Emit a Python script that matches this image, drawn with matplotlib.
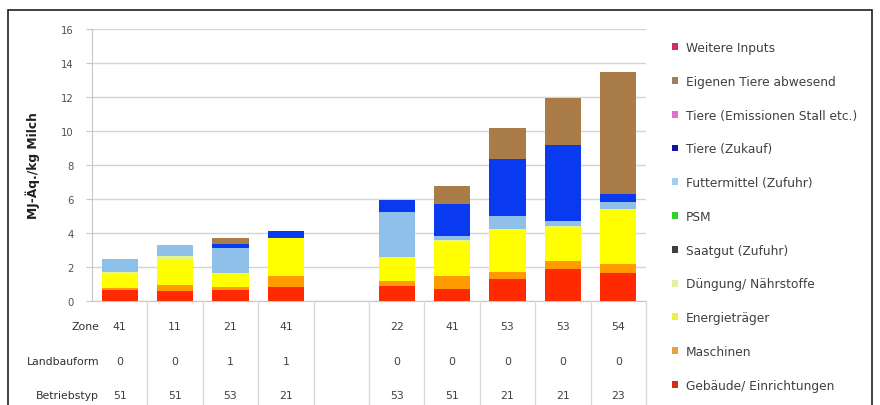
import matplotlib
matplotlib.use("Agg")
import matplotlib.pyplot as plt
from matplotlib.patches import Rectangle, Patch
from matplotlib.lines import Line2D
import numpy as np

plt.rcParams['font.family'] = ['DejaVu Sans']

# ---- data ----
zone = ["41", "11", "21", "41", "", "22", "41", "53", "53", "54"]
landbauform = ["0", "0", "1", "1", "", "0", "0", "0", "0", "0"]
betriebstyp = ["51", "51", "53", "21", "", "53", "51", "21", "21", "23"]

series_names = [
    "Gebäude/ Einrichtungen",
    "Maschinen",
    "Energieträger",
    "Düngung/ Nährstoffe",
    "Saatgut (Zufuhr)",
    "PSM",
    "Futtermittel (Zufuhr)",
    "Tiere (Zukauf)",
    "Tiere (Emissionen Stall etc.)",
    "Eigenen Tiere abwesend",
    "Weitere Inputs",
]
gebaeude   = [0.65, 0.60, 0.63, 0.80, 0, 0.88, 0.70, 1.30, 1.90, 1.65]
maschinen  = [0.10, 0.35, 0.20, 0.70, 0, 0.30, 0.80, 0.43, 0.45, 0.53]
energie    = [0.85, 1.55, 0.75, 2.20, 0, 1.40, 1.95, 2.45, 2.00, 3.15]
duengung   = [0.10, 0.15, 0.07, 0.02, 0, 0.03, 0.15, 0.05, 0.08, 0.08]
saatgut    = [0, 0, 0, 0, 0, 0, 0, 0, 0, 0]
psm        = [0, 0, 0, 0, 0, 0, 0, 0, 0, 0]
futter     = [0.80, 0.65, 1.45, 0.00, 0, 2.65, 0.22, 0.75, 0.30, 0.43]
zukauf     = [0.00, 0.00, 0.25, 0.40, 0, 0.68, 1.90, 3.40, 4.45, 0.45]
emissionen = [0, 0, 0, 0, 0, 0, 0, 0, 0, 0]
eigene     = [0.00, 0.00, 0.33, 0.00, 0, 0.00, 1.03, 1.82, 2.75, 7.20]
weitere    = [0, 0, 0, 0, 0, 0, 0, 0, 0, 0]

series_values = [gebaeude, maschinen, energie, duengung, saatgut, psm,
                 futter, zukauf, emissionen, eigene, weitere]
colors = ["#FF2A00", "#FF9A00", "#FFFF00", "#E4F58C", "#3A3A3A", "#33CC33",
          "#8EC0EA", "#0A3AF0", "#FF66CC", "#AA7C48", "#E0245A"]
legend_colors = ["#D03010", "#E8A040", "#F0F040", "#E8F0A0", "#404040", "#30D030",
                 "#A0D0F0", "#1010B0", "#E070D0", "#9A8060", "#D03060"]

W, H = 880, 406
fig = plt.figure(figsize=(W / 100, H / 100), dpi=100)

# axes placement (pixels)
ax_l, ax_r, ax_t, ax_b = 92, 646, 30, 302
ax = fig.add_axes([ax_l / W, 1 - ax_b / H, (ax_r - ax_l) / W, (ax_b - ax_t) / H])

x = np.arange(len(zone))
bottom = np.zeros(len(zone))
for name, vals, c in zip(series_names, series_values, colors):
    v = np.array(vals, dtype=float)
    ax.bar(x, v, width=0.65, bottom=bottom, color=c, edgecolor='none', zorder=3)
    bottom += v

ax.set_xlim(-0.5, len(zone) - 0.5)
ax.set_ylim(0, 16)
ax.set_yticks(np.arange(0, 17, 2))
ax.yaxis.grid(True, color="#D4D4D4", linewidth=1.0, zorder=0)
ax.set_xticks([])
for s in ['top', 'right']:
    ax.spines[s].set_visible(False)
ax.spines['left'].set_color("#C8C8C8")
ax.spines['bottom'].set_color("#C8C8C8")
ax.tick_params(axis='y', colors="#C8C8C8", labelcolor="#505050", labelsize=7.2,
               length=4, pad=9)
ax.set_ylabel("MJ-Äq./kg Milch", fontsize=8.8, fontweight='bold', color="#202020")
ax.yaxis.set_label_coords(-0.094, 0.5)

# ---- data table below the plot ----
slot_w = (ax_r - ax_l) / len(zone)
for k in range(1, len(zone) + 1):
    xp = (ax_l + k * slot_w) / W
    fig.add_artist(Line2D([xp, xp], [1 - ax_b / H, 0], color="#D8D8D8", lw=1.0))

row_y = [327, 362, 396]
row_labels = ["Zone", "Landbauform", "Betriebstyp"]
rows = [zone, landbauform, betriebstyp]
for yy, lab, row in zip(row_y, row_labels, rows):
    fig.text(99 / W, 1 - yy / H, lab, ha='right', va='center', fontsize=7.8,
             color="#303030")
    for i, val in enumerate(row):
        xc = ax.transData.transform((x[i], 0))[0]
        fig.text(xc / W, 1 - yy / H, val, ha='center', va='center', fontsize=7.8,
                 color="#404040")

# ---- legend (top to bottom = reversed stack order) ----
leg_handles = [Patch(facecolor=c, edgecolor='none') for c in legend_colors[::-1]]
fig.legend(leg_handles, series_names[::-1], loc='upper left',
           bbox_to_anchor=(672 / W, 1 - 42 / H), frameon=False, fontsize=8.8,
           labelcolor="#404040", handlelength=0.5, handleheight=0.5,
           handletextpad=0.65, labelspacing=1.7, borderpad=0, borderaxespad=0)

# outer frame
fig.add_artist(Rectangle((8 / W, -0.05), (872 - 8) / W, 1.05 - 11 / H,
                         fill=False, edgecolor="#202020", lw=1.2,
                         transform=fig.transFigure))

fig.savefig("out.png", dpi=100, facecolor='white')
